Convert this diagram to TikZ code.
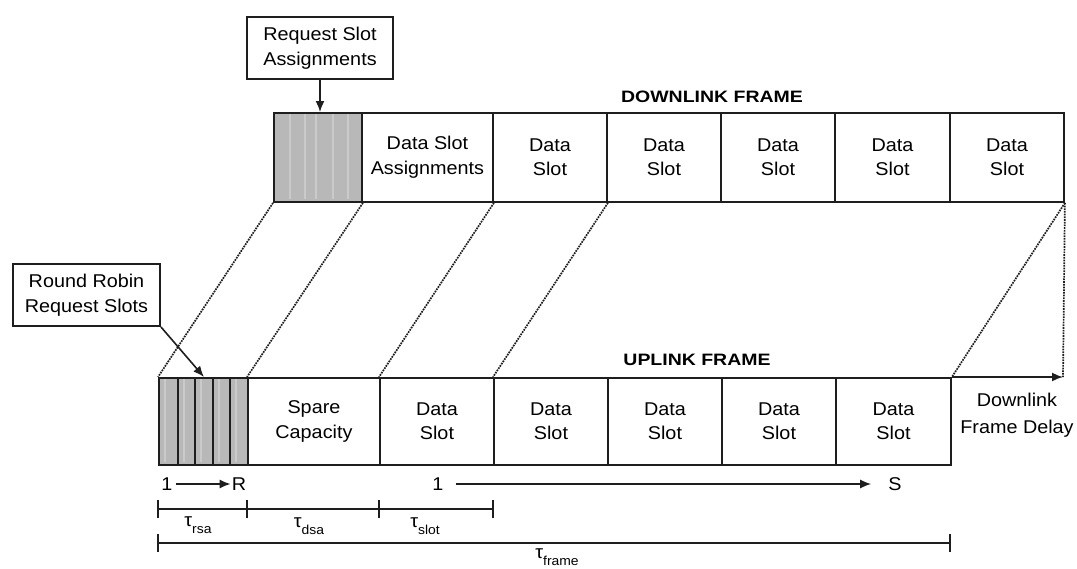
\documentclass[tikz,border=0pt]{standalone}
\usepackage{fontspec}
\setmainfont[FakeStretch=1.07]{Liberation Sans}
\newfontfamily\titlefont[FakeStretch=1.18]{Liberation Sans}
\usetikzlibrary{arrows.meta}
\definecolor{slotgray}{RGB}{184,184,184}
\definecolor{stripe}{RGB}{202,202,202}
\definecolor{ink}{RGB}{30,30,30}
\newcommand\tsub[1]{\raisebox{-0.35em}{\fontsize{13}{13}\selectfont #1}}
\tikzset{
  cell/.style={draw=ink, line width=1.9pt, inner sep=0pt, anchor=north west, align=center,
    font=\fontsize{18.5}{24.5}\selectfont},
  grayslot/.style={cell, fill=slotgray},
  callout/.style={draw=ink, line width=2pt, anchor=north west, inner sep=0pt, align=center,
    font=\fontsize{18.5}{24.5}\selectfont},
  map/.style={densely dotted, line width=1.7pt, draw=ink},
  tip/.style={-{Latex[length=11pt,width=9pt]}, line width=1.6pt, draw=ink},
  dim/.style={line width=1.8pt, draw=ink},
  title/.style={font=\titlefont\fontsize{16.5}{20}\selectfont\bfseries},
  lbl/.style={font=\fontsize{18.5}{27}\selectfont, inner sep=1pt},
  stripeline/.style={draw=stripe, line width=1.5pt},
}
\begin{document}
\begin{tikzpicture}[x=1pt,y=-1pt]
\useasboundingbox (0,0) rectangle (1077,568);

% downlink frame
\node[grayslot, minimum width=88, minimum height=89] (d0) at (273,112) {};
\node[cell, minimum width=131, minimum height=89] (d1) at (361,112) {Data Slot\\Assignments};
\node[cell, minimum width=114, minimum height=89] (d2) at (492,112) {Data\\Slot};
\node[cell, minimum width=114, minimum height=89] (d3) at (606,112) {Data\\Slot};
\node[cell, minimum width=114, minimum height=89] (d4) at (720,112) {Data\\Slot};
\node[cell, minimum width=115, minimum height=89] (d5) at (834,112) {Data\\Slot};
\node[cell, minimum width=114, minimum height=89] (d6) at (949,112) {Data\\Slot};
\foreach \x in {290,305,316,333,348} \draw[stripeline] (\x,114) -- (\x,199);
\node[title] (dltitle) at (712,97) {DOWNLINK FRAME};

% uplink frame
\node[grayslot, minimum width=19, minimum height=87] (r1) at (158,377) {};
\node[grayslot, minimum width=17, minimum height=87] (r2) at (177,377) {};
\node[grayslot, minimum width=18, minimum height=87] (r3) at (194,377) {};
\node[grayslot, minimum width=17, minimum height=87] (r4) at (212,377) {};
\node[grayslot, minimum width=18, minimum height=87] (r5) at (229,377) {};
\foreach \x in {165,184,201,219,236} \draw[stripeline] (\x,379) -- (\x,462);
\node[cell, minimum width=132, minimum height=87] (u1) at (247,377) {Spare\\Capacity};
\node[cell, minimum width=114, minimum height=87] (u2) at (379,377) {Data\\Slot};
\node[cell, minimum width=114, minimum height=87] (u3) at (493,377) {Data\\Slot};
\node[cell, minimum width=114, minimum height=87] (u4) at (607,377) {Data\\Slot};
\node[cell, minimum width=114, minimum height=87] (u5) at (721,377) {Data\\Slot};
\node[cell, minimum width=115, minimum height=87] (u6) at (835,377) {Data\\Slot};
\node[title] (ultitle) at (697,360) {UPLINK FRAME};

% mapping lines
\draw[map] (d0.south west) -- (r1.north west);
\draw[map] (d0.south east) -- (u1.north west);
\draw[map] (d1.south east) -- (u2.north west);
\draw[map] (d2.south east) -- (u3.north west);
\draw[map] (d6.south east) -- (u6.north east);
\coordinate (dly) at (1063,377);
\draw[map] (d6.south east) -- (dly);
\draw[tip] (u6.north east) -- (dly);
\node[lbl, align=center] (delay) at (1017,415) {Downlink\\Frame Delay};

% callouts
\node[callout, minimum width=146, minimum height=62] (rsa) at (246,16) {Request Slot\\Assignments};
\draw[tip] (rsa.south) -- (rsa.south |- d0.north);
\node[callout, minimum width=147, minimum height=62] (rrb) at (12,263) {Round Robin\\Request Slots};
\draw[tip] (rrb.south east) -- (r3.north);

% indices
\node[lbl] (i1) at (167,484) {1};
\node[lbl] (iR) at (239,484) {R};
\draw[tip, shorten <=2pt] (i1) -- (iR);
\node[lbl] (s1) at (438,484) {1};
\node[lbl] (sS) at (895,484) {S};
\draw[tip, shorten <=11pt, shorten >=16pt] (s1) -- (sS);

% dimension lines
\coordinate (t0) at (158,509);
\coordinate (t1) at (247,509);
\coordinate (t2) at (379,509);
\coordinate (t3) at (493,509);
\draw[dim] (t0) -- (t3);
\foreach \c in {t0,t1,t2,t3} \draw[dim] (\c) ++(0,-9) -- ++(0,18);
\coordinate (f0) at (158,543);
\coordinate (f1) at (950,543);
\draw[dim] (f0) -- (f1);
\foreach \c in {f0,f1} \draw[dim] (\c) ++(0,-9) -- ++(0,18);
\node[lbl] (trsa) at (198,525) {τ\tsub{rsa}};
\node[lbl] (tdsa) at (309,526) {τ\tsub{dsa}};
\node[lbl] (tslot) at (425,526) {τ\tsub{slot}};
\node[lbl] (tframe) at (557,557) {τ\tsub{frame}};
\end{tikzpicture}
\end{document}
